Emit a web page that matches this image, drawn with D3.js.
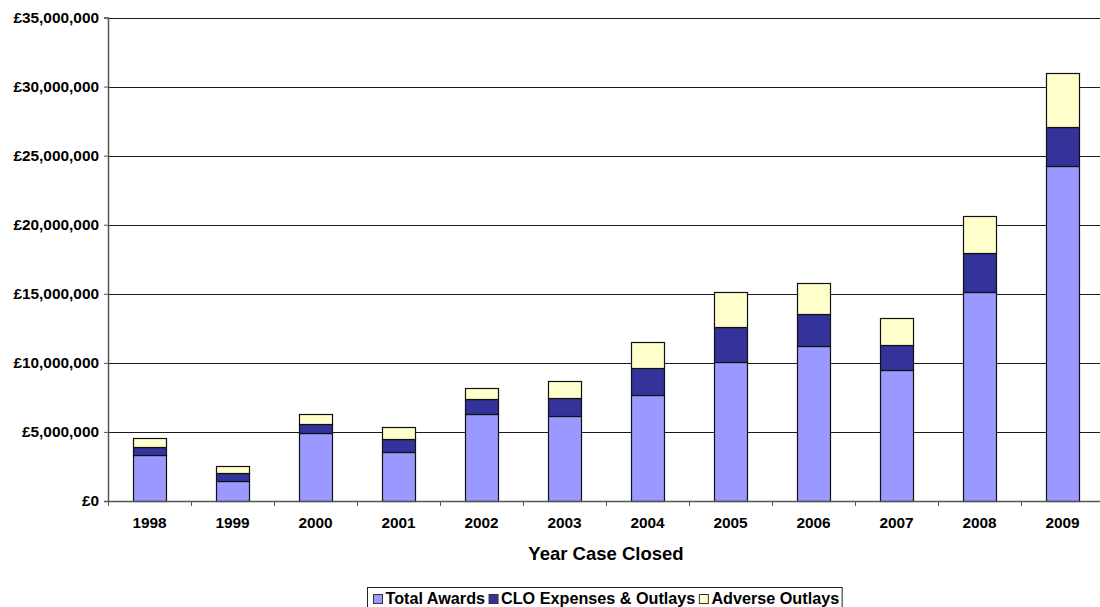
<!DOCTYPE html>
<html>
<head>
<meta charset="utf-8">
<script src="https://cdn.jsdelivr.net/npm/d3@7/dist/d3.min.js"></script>
<style>
  html, body { margin: 0; padding: 0; background: #fff; }
  svg { display: block; font-family: "Liberation Sans", Arial, sans-serif; font-weight: bold; }
</style>
</head>
<body>
<svg id="chart" width="1100" height="607"></svg>
<script>
// Year the case was closed
const years = ["1998", "1999", "2000", "2001", "2002", "2003", "2004", "2005", "2006", "2007", "2008", "2009"];

// Amounts in pounds per year
const totalAwards    = [3350000, 1470000, 4950000, 3570000, 6280000, 6130000, 7650000, 10070000, 11220000, 9490000, 15130000, 24280000];
const cloExpenses    = [540000, 580000, 630000, 920000, 1080000, 1350000, 1960000, 2530000, 2320000, 1780000, 2810000, 2820000];
const adverseOutlays = [650000, 460000, 720000, 890000, 820000, 1230000, 1900000, 2530000, 2270000, 1960000, 2680000, 3910000];

const seriesNames  = ["Total Awards", "CLO Expenses & Outlays", "Adverse Outlays"];
const seriesColors = ["#9999FF", "#333399", "#FFFFCC"];
const yTicks = [0, 5000000, 10000000, 15000000, 20000000, 25000000, 30000000, 35000000];

const svg = d3.select("#chart");
const plotLeft = 108, plotRight = 1104, plotTop = 17.5, plotBottom = 501;
const fontFamily = "Liberation Sans, Arial, sans-serif";

const x = d3.scaleBand().domain(years).range([plotLeft, plotRight]).paddingInner(0.6).paddingOuter(0.3);
const xOuter = d3.scaleBand().domain(years).range([plotLeft, plotRight]);
const y = d3.scaleLinear().domain([0, 35000000]).range([plotBottom, plotTop]);

// Horizontal gridlines
svg.append("g")
  .selectAll("line")
  .data(yTicks.filter(d => d > 0))
  .join("line")
  .attr("x1", plotLeft).attr("x2", 1100)
  .attr("y1", d => Math.round(y(d)) + 0.5).attr("y2", d => Math.round(y(d)) + 0.5)
  .attr("stroke", "#1a1a1a").attr("stroke-width", 1);

// Stacked bars
const rows = years.map((yr, i) => ({ year: yr, s0: totalAwards[i], s1: cloExpenses[i], s2: adverseOutlays[i] }));
const stack = d3.stack().keys(["s0", "s1", "s2"])(rows);

svg.append("g")
  .selectAll("g")
  .data(stack)
  .join("g")
  .attr("fill", (d, i) => seriesColors[i])
  .selectAll("rect")
  .data(d => d)
  .join("rect")
  .attr("x", d => Math.round(x(d.data.year)) + 0.5)
  .attr("width", Math.round(x.bandwidth()))
  .attr("y", d => Math.round(y(d[1])) + 0.5)
  .attr("height", d => Math.round(y(d[0])) - Math.round(y(d[1])))
  .attr("stroke", "#111").attr("stroke-width", 1.2);

// Y axis
const yAxis = d3.axisLeft(y)
  .tickValues(yTicks)
  .tickSize(4)
  .tickPadding(5)
  .tickFormat(d => "£" + d3.format(",")(d));
const gy = svg.append("g").attr("transform", `translate(${plotLeft},0)`).call(yAxis);
gy.select(".domain").attr("stroke", "#555").attr("stroke-width", 1.5);
gy.selectAll(".tick line").attr("stroke", "#555");
gy.selectAll(".tick text").attr("font-size", 15.4).attr("font-weight", "bold").attr("fill", "#000").attr("font-family", fontFamily);

// X axis
const xAxis = d3.axisBottom(xOuter).tickSize(0).tickPadding(16);
const gx = svg.append("g").attr("transform", `translate(0,${plotBottom})`).call(xAxis);
gx.select(".domain").attr("stroke", "#555").attr("stroke-width", 1.5);
gx.selectAll(".tick text").attr("font-size", 15.4).attr("font-weight", "bold").attr("fill", "#000").attr("font-family", fontFamily);
// category separators below the axis
svg.append("g")
  .selectAll("line")
  .data(years)
  .join("line")
  .attr("x1", d => xOuter(d) + 0.5).attr("x2", d => xOuter(d) + 0.5)
  .attr("y1", plotBottom).attr("y2", plotBottom + 5)
  .attr("stroke", "#555").attr("stroke-width", 1);

// X axis title
svg.append("text")
  .attr("x", (plotLeft + plotRight) / 2).attr("y", 560)
  .attr("text-anchor", "middle")
  .attr("font-size", 18.5)
  .text("Year Case Closed");

// Legend
const legend = svg.append("g");
const legendItems = legend.selectAll("g").data(seriesNames).join("g");
legendItems.append("rect")
  .attr("width", 9).attr("height", 9)
  .attr("fill", (d, i) => seriesColors[i])
  .attr("stroke", "#333").attr("stroke-width", 1);
legendItems.append("text")
  .attr("x", 12).attr("y", 9)
  .attr("font-size", 16.2)
  .text(d => d);
let cx = 373;
legendItems.each(function () {
  const g = d3.select(this);
  g.attr("transform", `translate(${cx + 0.5},${594.5})`);
  cx += 12 + g.select("text").node().getComputedTextLength() + 4;
});
legend.insert("rect", ":first-child")
  .attr("x", 367.5).attr("y", 587.5)
  .attr("width", cx - 367 - 1).attr("height", 25)
  .attr("fill", "#fff").attr("stroke", "#222").attr("stroke-width", 1);
</script>
</body>
</html>
